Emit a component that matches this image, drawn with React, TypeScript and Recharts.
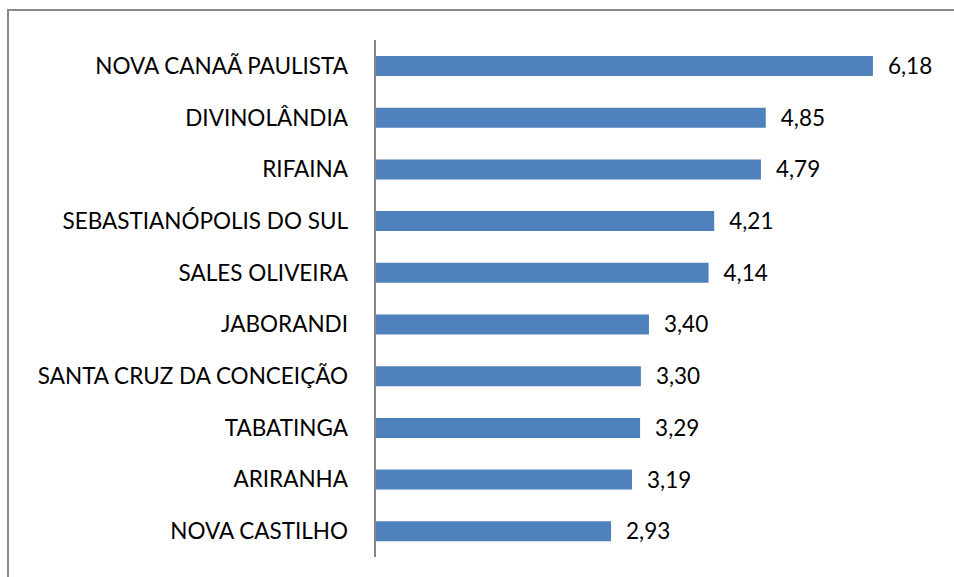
import React from 'react';
import { BarChart, Bar, XAxis, YAxis, LabelList } from 'recharts';

const municipios = [
  'NOVA CANAÃ PAULISTA',
  'DIVINOLÂNDIA',
  'RIFAINA',
  'SEBASTIANÓPOLIS DO SUL',
  'SALES OLIVEIRA',
  'JABORANDI',
  'SANTA CRUZ DA CONCEIÇÃO',
  'TABATINGA',
  'ARIRANHA',
  'NOVA CASTILHO',
];
const valores = [6.18, 4.85, 4.79, 4.21, 4.14, 3.4, 3.3, 3.29, 3.19, 2.93];

const data = municipios.map((nome, i) => ({ nome, valor: valores[i] }));

const FONT = 'Lato, "Open Sans", sans-serif';

const fmt = (v: any) => Number(v).toFixed(2).replace('.', ',');

export default function App() {
  return (
    <div style={{ position: 'absolute', left: 0, top: 0, width: 954, height: 577, overflow: 'hidden', background: '#fff' }}>
      <div
        style={{
          position: 'absolute',
          left: 7,
          top: 9,
          width: 1000,
          height: 700,
          border: '2px solid #8a8a8a',
          boxSizing: 'border-box',
        }}
      />
      <div style={{ position: 'absolute', left: 0, top: 0 }}>
        <BarChart
          width={954}
          height={577}
          data={data}
          layout="vertical"
          barSize={20}
          margin={{ top: 40, right: 15, bottom: 20, left: 0 }}
        >
          <XAxis type="number" domain={[0, 7]} hide />
          <YAxis
            type="category"
            dataKey="nome"
            width={375}
            axisLine={{ stroke: '#868686', strokeWidth: 2 }}
            tickLine={false}
            tickMargin={21}
            tick={{ fill: '#000', fontSize: 22.5, fontFamily: FONT }}
            interval={0}
          />
          <Bar dataKey="valor" fill="#4f81bd" isAnimationActive={false}>
            <LabelList
              dataKey="valor"
              position="right"
              offset={15}
              formatter={fmt}
              style={{ fill: '#000', fontSize: 22.5, fontFamily: FONT }}
            />
          </Bar>
        </BarChart>
      </div>
    </div>
  );
}
